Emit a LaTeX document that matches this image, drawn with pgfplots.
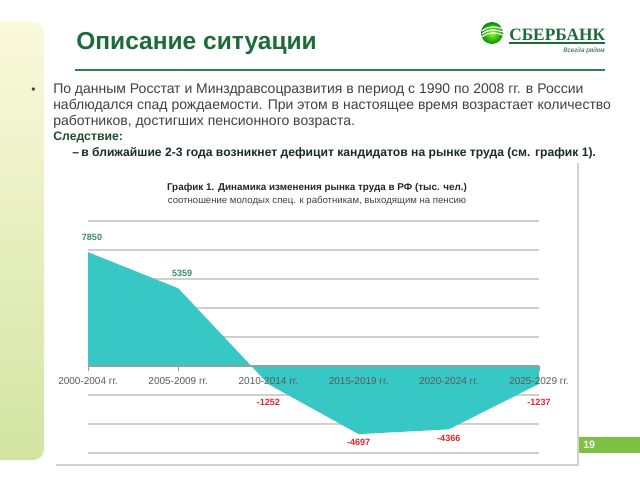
\documentclass[border=0pt]{standalone}
\usepackage{fontspec}
\setmainfont{Liberation Sans}
\newfontfamily\logofont{Liberation Serif}
\usepackage{pgfplots}
\pgfplotsset{compat=1.18}
\usetikzlibrary{shadings}
\definecolor{titlegreen}{HTML}{1E6B3A}
\definecolor{rulegreen}{HTML}{2F7F4F}
\definecolor{bodygray}{HTML}{404040}
\definecolor{conseq}{HTML}{1F4F30}
\definecolor{lastline}{HTML}{1A2E22}
\definecolor{areacol}{HTML}{37C8C5}
\definecolor{gridgray}{HTML}{CFCFCF}
\definecolor{axgray}{HTML}{8FA3A3}
\definecolor{lblgreen}{HTML}{3C8A6A}
\definecolor{lblred}{HTML}{E0262E}
\definecolor{pagegreen}{HTML}{7DC142}
\definecolor{ticktext}{HTML}{595959}
\definecolor{stripTop}{HTML}{FAF9DC}
\definecolor{stripMid}{HTML}{EEF2C2}
\definecolor{stripBot}{HTML}{D3E4A2}
\begin{document}
\begin{tikzpicture}[x=0.75pt,y=0.75pt]
\useasboundingbox (0,0) rectangle (640,480);
\fill[white] (0,0) rectangle (640,480);
% left decorative strip
\shade[top color=stripTop, middle color=stripMid, bottom color=stripBot, rounded corners=8pt] (-12,458) rectangle (44,20);
% title
\node[anchor=base west, inner sep=0pt, text=titlegreen, font=\bfseries\fontsize{18.4}{20}\selectfont] at (76,431) {Описание ситуации};
% logo
\shade[inner color=green!50!yellow!80!white, outer color=green!55!black] (492,447) circle (11);
\foreach \d in {0,3,6}{
  \draw[white, line width=0.9pt] (482,{449-\d}) .. controls (488,{454-\d}) and (495,{454-\d}) .. (503,{451-\d});
}
\node[anchor=base west, inner sep=0pt, text=titlegreen, font=\logofont\bfseries\fontsize{13}{14}\selectfont] at (509,440) {СБЕРБАНК};
\draw[titlegreen, line width=0.8pt] (509,437) -- (605,437);
\node[anchor=base east, inner sep=0pt, text=titlegreen!80!black, font=\itshape\fontsize{4.8}{5}\selectfont] at (605,428) {Всегда рядом};
% rule
\draw[rulegreen, line width=1.6pt] (75,410) -- (605,410);
% body
\node[anchor=base west, inner sep=0pt, text=bodygray, font=\fontsize{9}{10}\selectfont] at (31,387) {•};
\begin{scope}[every node/.style={anchor=base west, inner sep=0pt, text=bodygray, font=\fontsize{10.5}{12}\selectfont}]
\node at (53,387) {По данным Росстат и Минздравсоцразвития в период с 1990 по 2008 гг. в России};
\node at (53,371) {наблюдался спад рождаемости. При этом в настоящее время возрастает количество};
\node at (53,355) {работников, достигших пенсионного возраста.};
\node[text=conseq, font=\bfseries\fontsize{9.2}{11}\selectfont] at (53,340) {Следствие:};
\node[text=lastline, font=\bfseries\fontsize{9.1}{11}\selectfont] at (72,324) {–};
\node[text=lastline, font=\bfseries\fontsize{9.1}{11}\selectfont] at (81,324) {в ближайшие 2-3 года возникнет дефицит кандидатов на рынке труда (см. график 1).};
\end{scope}
% chart panel
\fill[white] (56,317) rectangle (578,15);
\draw[gray!35, line width=0.8pt] (578,317) -- (578,15) -- (56,15);
% page number
\fill[pagegreen] (579,43) rectangle (640,27);
\node[anchor=west, inner sep=0pt, text=white, font=\bfseries\fontsize{8}{9}\selectfont] at (583,35) {19};
% chart titles
\node[inner sep=0pt, text=black!85, font=\bfseries\fontsize{7.4}{8}\selectfont] at (317,292) {График 1. Динамика изменения рынка труда в РФ (тыс. чел.)};
\node[inner sep=0pt, text=black!75, font=\fontsize{7.2}{8}\selectfont] at (317,279) {соотношение молодых спец. к работникам, выходящим на пенсию};
\begin{axis}[
  at={(66pt,85.5pt)}, anchor=origin, scale only axis,
  width=338.25pt, height=174pt,
  xmin=0, xmax=5, ymin=-6000, ymax=10000,
  axis on top,
  axis x line=middle, axis y line=left,
  x axis line style={-, draw=axgray, line width=0.8pt},
  y axis line style={draw=none},
  hide obscured x ticks=false,
  xtick={0,1,2,3,4,5},
  xticklabels={2000-2004 гг.,2005-2009 гг.,2010-2014 гг.,2015-2019 гг.,2020-2024 гг.,2025-2029 гг.},
  xticklabel style={font=\fontsize{7.5}{8}\selectfont, text=ticktext, yshift=-1pt},
  xtick style={draw=axgray, line width=0.6pt},
  tick align=outside, major tick length=4pt,
  ytick=\empty, scaled y ticks=false,
  clip=false,
]
\pgfplotsinvokeforeach{-6000,-4000,-2000,2000,4000,6000,8000,10000}{
  \draw[gridgray, line width=0.9pt] (axis cs:0,#1) -- (axis cs:5,#1);
}
\addplot[draw=none, fill=areacol] coordinates {(0,0) (0,7850) (1,5359) (2,-1252) (3,-4697) (4,-4366) (5,-1237) (5,0)} -- cycle;
\addplot[draw=none, mark=none, point meta=explicit symbolic, nodes near coords,
  every node near coord/.append style={font=\bfseries\fontsize{6.8}{7}\selectfont, text=lblgreen, anchor=south, xshift=3pt, yshift=5pt}]
  coordinates {(0,7850) [7850] (1,5359) [5359]};
\addplot[draw=none, mark=none, point meta=explicit symbolic, nodes near coords,
  every node near coord/.append style={font=\bfseries\fontsize{6.8}{7}\selectfont, text=lblred, anchor=north, yshift=-8pt}]
  coordinates {(2,-1252) [-1252] (5,-1237) [-1237]};
\addplot[draw=none, mark=none, point meta=explicit symbolic, nodes near coords,
  every node near coord/.append style={font=\bfseries\fontsize{6.8}{7}\selectfont, text=lblred, anchor=north, yshift=-0.5pt}]
  coordinates {(3,-4697) [-4697] (4,-4366) [-4366]};
\end{axis}
\end{tikzpicture}
\end{document}
